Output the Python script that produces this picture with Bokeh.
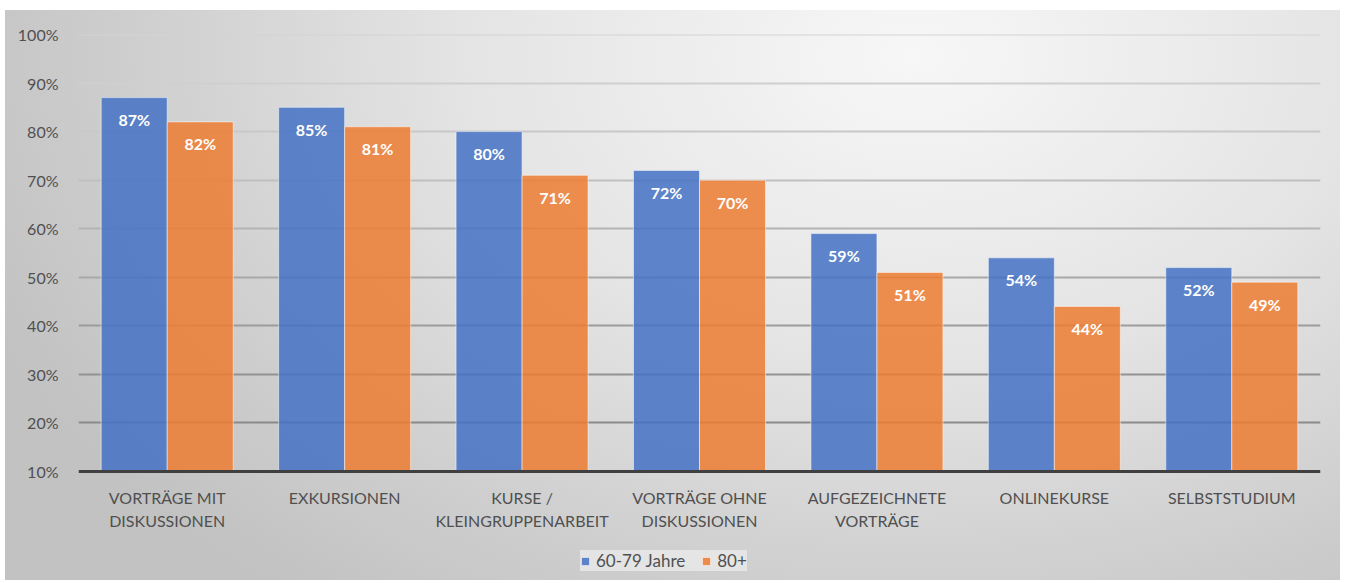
from bokeh.plotting import figure
from bokeh.models import ColumnDataSource, FactorRange, Range1d, Legend, LegendItem, FixedTicker, CustomJSTickFormatter, LabelSet
from bokeh.transform import dodge
from bokeh.embed import file_html
from bokeh.resources import INLINE
from bokeh.core.properties import value

categories = ["VORTRÄGE MIT\nDISKUSSIONEN", "EXKURSIONEN", "KURSE /\nKLEINGRUPPENARBEIT",
              "VORTRÄGE OHNE\nDISKUSSIONEN", "AUFGEZEICHNETE\nVORTRÄGE", "ONLINEKURSE", "SELBSTSTUDIUM"]
series_names = ["60-79 Jahre", "80+"]
vals_6079 = [87, 85, 80, 72, 59, 54, 52]
vals_80 = [82, 81, 71, 70, 51, 44, 49]
y_ticks = [10, 20, 30, 40, 50, 60, 70, 80, 90, 100]
grid_levels = [20, 30, 40, 50, 60, 70, 80, 90, 100]
grid_colors = ["#8a8a8a", "#929292", "#9c9c9c", "#a8a8a8", "#b4b4b4", "#bfbfbf", "#c8c8c8", "#cfcfcf", "#d4d4d4"]
Y_MIN, Y_MAX = 10, 100

BLUE = "#4472C4"
ORANGE = "#ED7D31"
FONT = "Lato"
TXT = "#505050"

# layout (pixels): the frame reaches down to the figure bottom so that the
# legend can sit under the category labels
W, H = 1335, 570
TOP, LEFT, RIGHT = 24, 73, 20
AXIS_PX = 437          # pixels between 10% and 100%
BELOW_PX = H - TOP - AXIS_PX
y_start = Y_MIN - BELOW_PX / AXIS_PX * (Y_MAX - Y_MIN)

line1 = [c.split("\n")[0] for c in categories]
line2 = [c.split("\n")[1] if "\n" in c else "" for c in categories]

src = ColumnDataSource(dict(
    cat=categories, a=vals_6079, b=vals_80, l1=line1, l2=line2,
    la=[f"{v}%" for v in vals_6079], lb=[f"{v}%" for v in vals_80],
))

p = figure(width=W, height=H, x_range=FactorRange(*categories, range_padding=0),
           y_range=Range1d(y_start, Y_MAX), output_backend="svg", toolbar_location=None,
           min_border_left=LEFT, min_border_right=RIGHT, min_border_top=TOP, min_border_bottom=0)
p.border_fill_color = None
p.background_fill_color = None
p.outline_line_color = None
p.styles = {"background": "radial-gradient(ellipse 75% 120% at 68% 8%, #f7f7f7 0%, #e4e4e4 45%, #cdcdcd 80%, #c2c2c2 100%)",
            "margin-left": "5px", "margin-top": "10px"}
p.grid.visible = False
p.xaxis.visible = False

gsrc = ColumnDataSource(dict(y=grid_levels, c=grid_colors))
p.hspan(y="y", source=gsrc, line_color="c", line_width=2)

w = 0.372
r1 = p.vbar(x=dodge("cat", -w / 2, range=p.x_range), top="a", bottom=Y_MIN, width=w, source=src,
            fill_color=BLUE, fill_alpha=0.85, line_color="white", line_alpha=0.5, line_width=1)
r2 = p.vbar(x=dodge("cat", w / 2, range=p.x_range), top="b", bottom=Y_MIN, width=w, source=src,
            fill_color=ORANGE, fill_alpha=0.85, line_color="white", line_alpha=0.5, line_width=1)

# category axis line at 10%
p.hspan(y=[Y_MIN], line_color="#404040", line_width=3)

for col, lab, off in (("a", "la", -w / 2), ("b", "lb", w / 2)):
    ls = LabelSet(x=dodge("cat", off, range=p.x_range), y=col, text=lab, source=src,
                  y_offset=-22, text_align="center", text_baseline="middle",
                  text_color="white", text_font=value(FONT), text_font_style="bold",
                  text_font_size="16px")
    p.add_layout(ls)

# category labels (two centred lines)
for col, off in (("l1", -26), ("l2", -49)):
    cl = LabelSet(x="cat", y=Y_MIN, text=col, source=src, y_offset=off,
                  text_align="center", text_baseline="middle", text_color=TXT,
                  text_font=value(FONT), text_font_size="16px")
    p.add_layout(cl)

p.yaxis.ticker = FixedTicker(ticks=y_ticks)
p.yaxis.formatter = CustomJSTickFormatter(code="return tick + '%';")
p.yaxis.axis_line_color = None
p.yaxis.major_tick_line_color = None
p.yaxis.minor_tick_line_color = None
p.yaxis.major_label_text_font = FONT
p.yaxis.major_label_text_font_size = "16px"
p.yaxis.major_label_text_color = TXT
p.yaxis.major_label_standoff = 14

legend = Legend(items=[LegendItem(label=series_names[0], renderers=[r1]),
                       LegendItem(label=series_names[1], renderers=[r2])],
                orientation="horizontal", location=(502, 9),
                background_fill_color="#eaeaea", background_fill_alpha=0.8,
                border_line_color=None, label_text_font=FONT, label_text_font_size="17px",
                label_text_color=TXT, glyph_width=10, glyph_height=10,
                spacing=16, padding=9, margin=0, label_standoff=6)
p.add_layout(legend, "center")

open("out.html", "w").write(file_html(p, INLINE))
